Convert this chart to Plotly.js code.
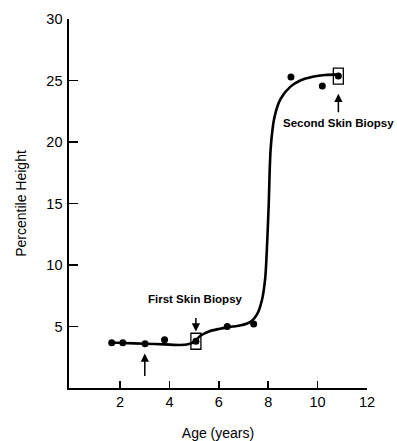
<!DOCTYPE html>
<html>
<head>
<meta charset="utf-8">
<script src="https://cdn.plot.ly/plotly-3.0.1.min.js"></script>
<style>html,body{margin:0;padding:0;background:#fff;}#chart{width:397px;height:441px;}</style>
</head>
<body>
<div id="chart"></div>
<script>
// Observed measurements
var ageYears = [1.66, 2.11, 3.01, 3.8, 5.07, 6.34, 7.41, 8.92, 10.19, 10.84];
var percentileHeight = [3.68, 3.68, 3.6, 3.92, 3.8, 5.0, 5.2, 25.28, 24.55, 25.36];

// Hand-drawn growth curve
var curveAge = [1.66, 2.1, 3.0, 3.8, 4.4, 4.75, 5.0, 5.25, 5.6, 6.0, 6.4, 6.9, 7.3, 7.55, 7.75, 7.88, 7.96, 8.02, 8.1, 8.25, 8.5, 8.9, 9.3, 9.8, 10.3, 10.85];
var curvePct = [3.7, 3.66, 3.6, 3.55, 3.5, 3.55, 3.75, 4.25, 4.6, 4.8, 4.95, 5.1, 5.4, 6.0, 7.2, 9.0, 12.0, 15.0, 19.5, 22.0, 23.5, 24.5, 25.0, 25.3, 25.45, 25.5];

// Biopsy events
var biopsyAge = [5.07, 10.84];
var biopsyPct = [3.8, 25.36];
var biopsyLabels = ["First Skin Biopsy", "Second Skin Biopsy"];
var biopsyLabelPct = [7.21, 21.52];
var biopsyArrowTip = [4.6, 23.93];

// Unlabelled arrow (upward) under the early curve
var markAge = [3.0];
var markTip = [2.8];

// Axis ticks
var xTicks = [2, 4, 6, 8, 10, 12];
var yTicks = [5, 10, 15, 20, 25, 30];

var traces = [
  {x: curveAge, y: curvePct, type: 'scatter', mode: 'lines',
   line: {color: '#000', width: 2.6, shape: 'spline', smoothing: 0.8}, hoverinfo: 'skip'},
  {x: ageYears, y: percentileHeight, type: 'scatter', mode: 'markers',
   marker: {color: '#000', size: 7}}
];

var shapes = biopsyAge.map(function(a, i){
  return {type: 'rect', xref: 'x', yref: 'y', xsizemode: 'pixel', ysizemode: 'pixel',
    xanchor: a, yanchor: biopsyPct[i], x0: -5, x1: 5, y0: -8, y1: 8,
    line: {color: '#000', width: 1.3}, fillcolor: 'rgba(0,0,0,0)'};
});

var ann = [];
biopsyAge.forEach(function(a, i){
  ann.push({x: a, y: biopsyLabelPct[i], xref: 'x', yref: 'y', text: '<b>' + biopsyLabels[i] + '</b>',
    showarrow: false, font: {family: 'Liberation Sans, Arial, sans-serif', size: 11.5, color: '#000'}});
});
ann.push({x: biopsyAge[0], y: biopsyArrowTip[0], xref: 'x', yref: 'y', text: '', showarrow: true,
  ax: 0, ay: -15, arrowhead: 2, arrowsize: 1.1, arrowwidth: 1.5, arrowcolor: '#000', standoff: 0});
ann.push({x: biopsyAge[1], y: biopsyArrowTip[1], xref: 'x', yref: 'y', text: '', showarrow: true,
  ax: 0, ay: 20, arrowhead: 2, arrowsize: 1.1, arrowwidth: 1.5, arrowcolor: '#000', standoff: 0});
ann.push({x: markAge[0], y: markTip[0], xref: 'x', yref: 'y', text: '', showarrow: true,
  ax: 0, ay: 24, arrowhead: 2, arrowsize: 1.1, arrowwidth: 1.5, arrowcolor: '#000', standoff: 0});

var layout = {
  width: 397, height: 441,
  margin: {l: 69, r: 30, t: 19, b: 53},
  paper_bgcolor: '#fff', plot_bgcolor: '#fff',
  showlegend: false,
  font: {family: 'Liberation Sans, Arial, sans-serif', color: '#000', size: 14},
  xaxis: {range: [-0.07, 12], tickvals: xTicks, ticktext: xTicks.map(String),
    ticks: 'inside', ticklen: 7, tickwidth: 1.5, tickcolor: '#000',
    showline: true, linecolor: '#000', linewidth: 1.6, showgrid: false, zeroline: false,
    tickfont: {size: 14.5, color: '#000'}, title: {text: 'Age (years)', font: {size: 14, color: '#000'}, standoff: 21}},
  yaxis: {range: [0, 30], tickvals: yTicks, ticktext: yTicks.map(String),
    ticks: 'inside', ticklen: 9, tickwidth: 1.5, tickcolor: '#000', ticklabelstandoff: 2,
    showline: true, linecolor: '#000', linewidth: 1.6, showgrid: false, zeroline: false,
    tickfont: {size: 14.5, color: '#000'}, title: {text: 'Percentile Height', font: {size: 14, color: '#000'}, standoff: 16}},
  shapes: shapes,
  annotations: ann
};

Plotly.newPlot('chart', traces, layout, {staticPlot: true, displayModeBar: false});
</script>
</body>
</html>
